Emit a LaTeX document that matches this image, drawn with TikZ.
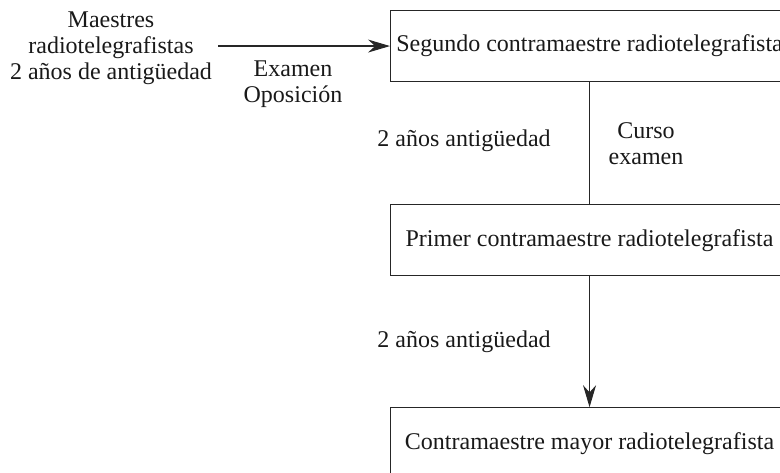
\documentclass[tikz,border=0pt]{standalone}
\usepackage{fontspec}
\setmainfont{Liberation Serif}
\usetikzlibrary{arrows.meta, positioning}
\tikzset{
    % Rank boxes
    rank/.style={
        rectangle,
        draw=black!85,
        line width=1.1pt,
        minimum width=398pt,
        minimum height=71pt,
        inner sep=0pt,
        font=\fontsize{24}{26}\selectfont,
        text=black!90
    },
    % Free text and connectors
    note/.style={align=center, inner sep=0pt, font=\fontsize{24}{26}\selectfont, text=black!90},
    link/.style={draw=black!85, line width=1.1pt},
    arrow/.style={link, -{Stealth[length=22pt, width=13pt]}}
}

\begin{document}
\begin{tikzpicture}[x=1pt, y=-1pt]
    \useasboundingbox (0,0) rectangle (780,473);
    \clip (0,0) rectangle (780,473);

    % --- Ranks (one column) ---
    \node (segundo) [rank, anchor=north west] at (390,10) {Segundo contramaestre radiotelegrafista};
    \node (primer) [rank, below=122pt of segundo] {Primer contramaestre radiotelegrafista};
    \node (mayor) [rank, below=131pt of primer] {Contramaestre mayor radiotelegrafista};

    % --- Entry ---
    \node (maestres) [note] at (111,48) {Maestres\\radiotelegrafistas\\2 años de antigüedad};
    \node (oposicion) [note] at (293,84) {Examen\\Oposición};

    % --- Conditions ---
    \node (antigA) [note] at (464,141) {2 años antigüedad};
    \node (curso) [note] at (646,144) {Curso\\examen};
    \node (antigB) [note] at (464,342) {2 años antigüedad};

    % --- Arrows ---
    \draw [arrow, shorten <=6pt] (maestres.east |- segundo.west) -- (segundo.west);
    \draw [link] (segundo) -- (primer);
    \draw [arrow] (primer) -- (mayor);

\end{tikzpicture}
\end{document}
